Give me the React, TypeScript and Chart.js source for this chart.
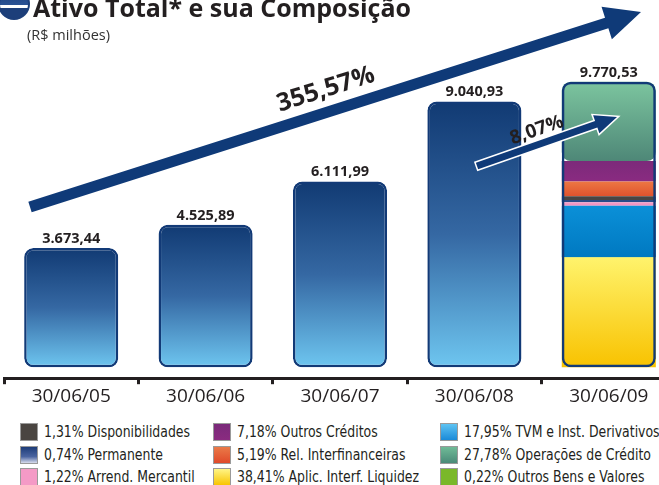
import React, { useEffect, useRef } from 'react';
import { Chart, registerables } from 'chart.js';

Chart.register(...registerables);

// ---------- data ----------
const categories = ['30/06/05', '30/06/06', '30/06/07', '30/06/08', '30/06/09'];
const totalAssets = [3673.44, 4525.89, 6111.99, 9040.93, 9770.53];

// composition of the last bar, bottom to top
const compositionNames = [
  'Aplic. Interf. Liquidez',
  'Outros Bens e Valores',
  'TVM e Inst. Derivativos',
  'Arrend. Mercantil',
  'Permanente',
  'Disponibilidades',
  'Rel. Interfinanceiras',
  'Outros Créditos',
  'Operações de Crédito',
];
const compositionPct = [38.41, 0.22, 17.95, 1.22, 0.74, 1.31, 5.19, 7.18, 27.78];

// legend order (column by column)
const legendOrder = [
  'Disponibilidades', 'Permanente', 'Arrend. Mercantil',
  'Outros Créditos', 'Rel. Interfinanceiras', 'Aplic. Interf. Liquidez',
  'TVM e Inst. Derivativos', 'Operações de Crédito', 'Outros Bens e Valores',
];

const growthTotalLabel = '355,57%';
const growthLastLabel = '8,07%';

// ---------- styles ----------
const segColors: Record<string, [string, string]> = {
  'Aplic. Interf. Liquidez': ['#fff36c', '#f8c200'],
  'Outros Bens e Valores': ['#7cba2a', '#7cba2a'],
  'TVM e Inst. Derivativos': ['#0b90d8', '#0079c1'],
  'Arrend. Mercantil': ['#f3a0c9', '#f08fbf'],
  'Permanente': ['#2a4b88', '#2a4b88'],
  'Disponibilidades': ['#4a4543', '#4a4543'],
  'Rel. Interfinanceiras': ['#ec7743', '#e0522d'],
  'Outros Créditos': ['#7c2a7a', '#8a2b81'],
  'Operações de Crédito': ['#7cc59f', '#4e8777'],
};
const legendBox: Record<string, string> = {
  'Disponibilidades': 'linear-gradient(#4a4541,#4a4541)',
  'Permanente': 'linear-gradient(#1d3c78,#4a64a0 60%,#d8dcec)',
  'Arrend. Mercantil': 'linear-gradient(#f49ac6,#f49ac6)',
  'Outros Créditos': 'linear-gradient(#7a2a7a,#8a2b80)',
  'Rel. Interfinanceiras': 'linear-gradient(#ea7a48,#e04a2a)',
  'Aplic. Interf. Liquidez': 'linear-gradient(#fff586,#f8c400)',
  'TVM e Inst. Derivativos': 'linear-gradient(#5ec3f2,#1a8ad8)',
  'Operações de Crédito': 'linear-gradient(#70bb97,#4a8a78)',
  'Outros Bens e Valores': 'linear-gradient(#7ab82a,#7ab82a)',
};

const NAVY = '#123a77';
const TEXT = '#231f20';
const Y_MIN = -1100;
const Y_MAX = 11300;
const BAR_BASE = -700;

function fmtBR(v: number): string {
  const [i, d] = v.toFixed(2).split('.');
  return i.replace(/\B(?=(\d{3})+(?!\d))/g, '.') + ',' + d;
}

function drawArrow(ctx: CanvasRenderingContext2D, x1: number, y1: number, x2: number, y2: number,
  sw: number, hl: number, hw: number, outline: number) {
  const a = Math.atan2(y2 - y1, x2 - x1);
  const L = Math.hypot(x2 - x1, y2 - y1);
  ctx.save();
  ctx.translate(x1, y1);
  ctx.rotate(a);
  ctx.beginPath();
  ctx.moveTo(0, -sw / 2);
  ctx.lineTo(L - hl, -sw / 2);
  ctx.lineTo(L - hl, -hw / 2);
  ctx.lineTo(L, 0);
  ctx.lineTo(L - hl, hw / 2);
  ctx.lineTo(L - hl, sw / 2);
  ctx.lineTo(0, sw / 2);
  ctx.closePath();
  if (outline > 0) {
    ctx.lineJoin = 'miter';
    ctx.strokeStyle = '#ffffff';
    ctx.lineWidth = outline * 2;
    ctx.stroke();
  }
  ctx.fillStyle = '#0f3a78';
  ctx.fill();
  ctx.restore();
}

function drawRotLabel(ctx: CanvasRenderingContext2D, text: string, x1: number, y1: number, x2: number, y2: number,
  t: number, off: number, font: string) {
  const a = Math.atan2(y2 - y1, x2 - x1);
  const px = x1 + (x2 - x1) * t;
  const py = y1 + (y2 - y1) * t;
  const cx = px + Math.sin(a) * off;
  const cy = py - Math.cos(a) * off;
  ctx.save();
  ctx.translate(cx, cy);
  ctx.rotate(a);
  ctx.font = font;
  ctx.fillStyle = TEXT;
  ctx.textAlign = 'center';
  ctx.textBaseline = 'middle';
  ctx.fillText(text, 0, 0);
  ctx.restore();
}

const annotationPlugin = {
  id: 'annotations',
  afterDatasetsDraw(chart: any) {
    const ctx: CanvasRenderingContext2D = chart.ctx;
    const meta = chart.getDatasetMeta(0);
    ctx.save();
    ctx.font = 'bold 14.5px "Open Sans"';
    ctx.fillStyle = TEXT;
    ctx.textAlign = 'center';
    ctx.textBaseline = 'bottom';
    meta.data.forEach((el: any, i: number) => {
      ctx.fillText(fmtBR(totalAssets[i]), el.x, el.y - 2);
    });
    ctx.restore();

    // big growth arrow
    const b = { x1: 30, y1: 207, x2: 641, y2: 12 };
    drawArrow(ctx, b.x1, b.y1, b.x2, b.y2, 11, 36, 34, 1);
    drawRotLabel(ctx, growthTotalLabel, b.x1, b.y1, b.x2, b.y2, 0.495, 22, 'bold 25px "Open Sans"');

    // small growth arrow
    const s = { x1: 477, y1: 166, x2: 617, y2: 117 };
    drawArrow(ctx, s.x1, s.y1, s.x2, s.y2, 7, 22, 19, 1.5);
    drawRotLabel(ctx, growthLastLabel, s.x1, s.y1, s.x2, s.y2, 0.46, 14, 'bold 19px "Open Sans"');
  },
};

export default function App() {
  const ref = useRef<HTMLCanvasElement>(null);

  useEffect(() => {
    if (!ref.current) return;
    const total = totalAssets[totalAssets.length - 1];
    const span = total - BAR_BASE;
    const y2Min = ((Y_MIN - BAR_BASE) / span) * 100;
    const y2Max = ((Y_MAX - BAR_BASE) / span) * 100;
    const last = categories.length - 1;

    const cum: number[] = [];
    let acc = 0;
    compositionPct.forEach((p) => { cum.push(acc); acc += p; });

    const compDatasets = compositionNames.map((name, k) => ({
      type: 'bar' as const,
      label: name,
      data: categories.map((_, i) => (i === last ? compositionPct[k] : null)),
      yAxisID: 'y2',
      order: 1,
      barPercentage: 0.7,
      categoryPercentage: 1,
      borderWidth: 0,
      borderRadius: 9,
      borderSkipped: false,
      backgroundColor: (c: any) => {
        const [top, bottom] = segColors[name];
        const chart = c.chart;
        if (!chart.chartArea || top === bottom) return top;
        const sc = chart.scales.y2;
        const yTop = sc.getPixelForValue(cum[k] + compositionPct[k]);
        const yBot = sc.getPixelForValue(cum[k]);
        const g = chart.ctx.createLinearGradient(0, yTop, 0, yBot);
        g.addColorStop(0, top);
        g.addColorStop(1, bottom);
        return g;
      },
    }));

    const chart = new Chart(ref.current, {
      type: 'bar',
      data: {
        labels: categories,
        datasets: [
          {
            label: 'Ativo Total',
            data: totalAssets,
            yAxisID: 'y',
            order: 0,
            base: BAR_BASE,
            barPercentage: 0.7,
            categoryPercentage: 1,
            borderWidth: 2.5,
            borderColor: NAVY,
            borderRadius: 9,
            borderSkipped: false,
            backgroundColor: (c: any) => {
              const chart = c.chart;
              if (c.dataIndex === last) return 'rgba(0,0,0,0)';
              if (!chart.chartArea) return '#3a6aa5';
              const sc = chart.scales.y;
              const yTop = sc.getPixelForValue(totalAssets[c.dataIndex]);
              const yBot = sc.getPixelForValue(BAR_BASE);
              const g = chart.ctx.createLinearGradient(0, yTop, 0, yBot);
              g.addColorStop(0, '#113a73');
              g.addColorStop(0.5, '#3568a3');
              g.addColorStop(1, '#6ec6f0');
              return g;
            },
          } as any,
          ...compDatasets,
        ],
      },
      options: {
        responsive: false,
        animation: false,
        layout: { padding: { left: 4, right: 4, top: 40, bottom: 2 } },
        plugins: {
          legend: { display: false },
          tooltip: { enabled: false },
          title: { display: false },
        },
        scales: {
          x: {
            stacked: true,
            grid: {
              display: true,
              offset: true,
              drawOnChartArea: false,
              drawTicks: true,
              tickLength: 6,
              tickWidth: 3,
              tickColor: TEXT,
            },
            border: { display: true, color: TEXT, width: 3 },
            ticks: {
              color: TEXT,
              padding: 1,
              font: { family: '"Open Sans"', size: 19 },
            },
          },
          y: {
            display: false,
            stacked: false,
            min: Y_MIN,
            max: Y_MAX,
          },
          y2: {
            display: false,
            stacked: true,
            min: y2Min,
            max: y2Max,
          },
        },
      } as any,
      plugins: [annotationPlugin],
    });
    return () => chart.destroy();
  }, []);

  const colLeft = [20, 213, 440];
  const rowTop = [423, 446, 468];

  return (
    <div style={{ position: 'fixed', left: 0, top: 0, width: 659, height: 485, overflow: 'hidden', background: '#fff' }}>
      <canvas ref={ref} width={680} height={411} style={{ position: 'absolute', left: 0, top: 0 }} />
      <div style={{
        position: 'absolute', left: -2, top: -12, width: 28, height: 28, borderRadius: '50%',
        border: '2px solid #1d3f7a',
        background: 'linear-gradient(#1d3f7a 0%, #2a5294 52%, #ffffff 52%, #ffffff 66%, #1d3f7a 66%)',
      }} />
      <div style={{
        position: 'absolute', left: 33, top: -5, fontFamily: '"Open Sans"', fontWeight: 700,
        fontSize: 25, lineHeight: '25px', color: TEXT, whiteSpace: 'nowrap',
      }}>Ativo Total* e sua Composição</div>
      <div style={{
        position: 'absolute', left: 27, top: 27, fontFamily: '"Open Sans"',
        fontSize: 14.5, lineHeight: '16px', color: '#333', whiteSpace: 'nowrap',
      }}>(R$ milhões)</div>
      {legendOrder.map((name, i) => {
        const col = Math.floor(i / 3);
        const row = i % 3;
        const pct = compositionPct[compositionNames.indexOf(name)];
        return (
          <div key={name} style={{
            position: 'absolute', left: colLeft[col], top: rowTop[row], height: 18,
            display: 'flex', alignItems: 'center', whiteSpace: 'nowrap',
          }}>
            <div style={{
              width: 16, height: 16, border: '1px solid #9a9a9a', background: legendBox[name],
              marginRight: 6, flex: 'none',
            }} />
            <span style={{
              fontFamily: '"DejaVu Sans Condensed", "DejaVu Sans", sans-serif',
              fontSize: 16.5, color: TEXT, lineHeight: '18px',
              display: 'inline-block', transform: 'scaleX(0.84)', transformOrigin: 'left center',
            }}>{pct.toFixed(2).replace('.', ',')}% {name}</span>
          </div>
        );
      })}
    </div>
  );
}
